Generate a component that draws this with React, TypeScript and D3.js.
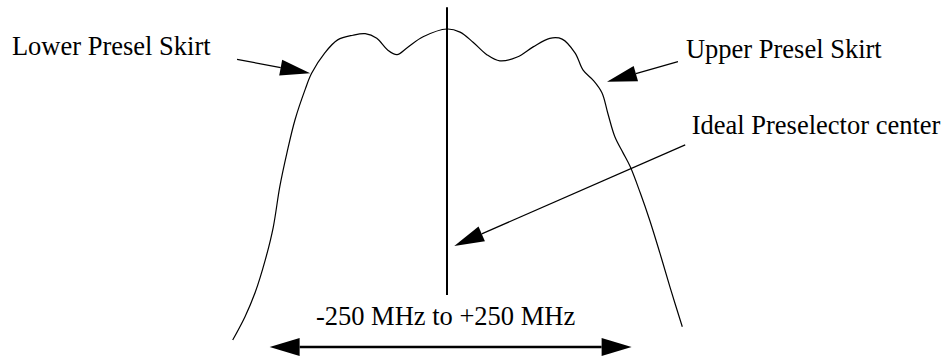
import { useEffect, useRef } from 'react'
import * as d3 from 'd3'

// preselector response, offset from center in MHz vs. relative level in dB
const freqMHz = [-296, -279, -265, -251, -240, -231, -221, -210, -196, -187, -169, -151, -130, -113, -97, -82, -69, -55, -33, 0, 18, 36, 55, 73, 97, 119, 142, 159, 177, 188, 202, 214, 222, 232, 243, 253, 267, 280, 294, 308, 325]
const levelDb = [-40.0, -37.0, -33.9, -29.7, -25.5, -20.3, -15.9, -11.7, -7.8, -5.7, -3.1, -1.4, -0.8, -0.6, -1.2, -2.7, -3.3, -2.4, -1.0, 0, -0.4, -1.7, -3.3, -4.1, -3.6, -2.3, -1.2, -1.3, -3.1, -5.3, -6.6, -8.2, -10.8, -13.9, -15.9, -17.7, -21.1, -24.6, -28.8, -33.2, -38.3]

// annotation labels (anchor in MHz / dB)
const labelText = ['Lower Presel Skirt', 'Upper Presel Skirt', 'Ideal Preselector center', '-250 MHz to +250 MHz']
const labelX = [-601, 330, 338, -2]
const labelY = [-3.3, -3.7, -13.5, -38.1]
const labelAnchor = ['start', 'start', 'start', 'middle']

// pointer arrows: [fromMHz, fromDb, toMHz, toDb]
const pointers = [
  [-290, -3.9, -189, -5.7],
  [319, -4.2, 221, -6.8],
  [329, -14.9, 10, -27.9],
]

const centerLine = [2.8, -34.2] // dB extent at 0 MHz
const spanMHz = [-245, 255]
const spanDb = -40.9

export default function App() {
  const ref = useRef<SVGSVGElement>(null)

  useEffect(() => {
    if (!ref.current) return
    document.body.style.margin = '0'
    const svg = d3.select(ref.current)
    svg.selectAll('*').remove()

    const width = 946
    const height = 356
    svg.attr('width', width).attr('height', height)

    const x = d3.scaleLinear().domain([-250, 250]).range([266, 628])
    const y = d3.scaleLinear().domain([0, -40]).range([29, 340])

    const pts: [number, number][] = freqMHz.map((f, i) => [x(f), y(levelDb[i])])
    const line = d3.line<[number, number]>().curve(d3.curveCatmullRom.alpha(0.5))

    svg.append('path')
      .attr('d', line(pts))
      .attr('fill', 'none')
      .attr('stroke', '#000')
      .attr('stroke-width', 1.2)

    // center marker
    svg.append('line')
      .attr('x1', x(0)).attr('x2', x(0))
      .attr('y1', y(centerLine[0])).attr('y2', y(centerLine[1]))
      .attr('stroke', '#000')
      .attr('stroke-width', 2)

    const head = (tx: number, ty: number, fx: number, fy: number, len: number, half: number) => {
      const a = Math.atan2(ty - fy, tx - fx)
      const bx = tx - Math.cos(a) * len
      const by = ty - Math.sin(a) * len
      const px = -Math.sin(a) * half
      const py = Math.cos(a) * half
      svg.append('polygon')
        .attr('points', `${tx},${ty} ${bx + px},${by + py} ${bx - px},${by - py}`)
        .attr('fill', '#000')
      return [bx, by]
    }

    pointers.forEach(p => {
      const fx = x(p[0]), fy = y(p[1]), tx = x(p[2]), ty = y(p[3])
      const [bx, by] = head(tx, ty, fx, fy, 30, 8)
      svg.append('line')
        .attr('x1', fx).attr('y1', fy)
        .attr('x2', bx).attr('y2', by)
        .attr('stroke', '#000')
        .attr('stroke-width', 1.2)
    })

    // span double arrow
    const sy = y(spanDb)
    const l = head(x(spanMHz[0]), sy, x(spanMHz[1]), sy, 30, 9)
    const r = head(x(spanMHz[1]), sy, x(spanMHz[0]), sy, 30, 9)
    svg.append('line')
      .attr('x1', l[0]).attr('y1', sy)
      .attr('x2', r[0]).attr('y2', sy)
      .attr('stroke', '#000')
      .attr('stroke-width', 2.5)

    labelText.forEach((t, i) => {
      svg.append('text')
        .attr('x', x(labelX[i]))
        .attr('y', y(labelY[i]))
        .attr('text-anchor', labelAnchor[i])
        .style('font-family', '"Liberation Serif", "Times New Roman", serif')
        .style('font-size', '26.5px')
        .style('fill', '#000')
        .text(t)
    })
  }, [])

  return <svg ref={ref} style={{ display: 'block' }}></svg>
}
